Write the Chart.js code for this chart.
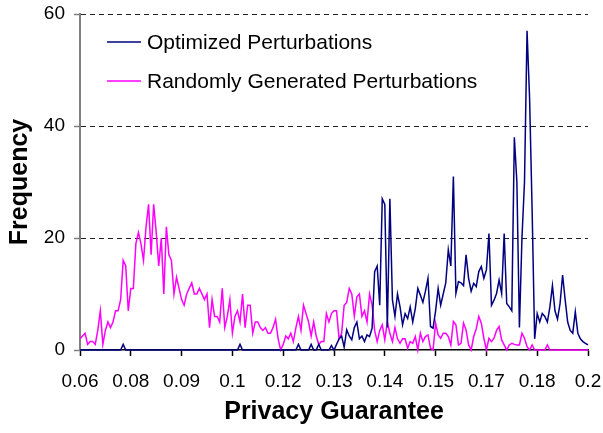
<!DOCTYPE html>
<html>
<head>
<meta charset="utf-8">
<script src="https://cdn.jsdelivr.net/npm/chart.js@4.4.1/dist/chart.umd.min.js"></script>
<style>
  html, body { margin: 0; padding: 0; background: #fff; }
  #wrap { width: 603px; height: 433px; }
</style>
</head>
<body>
<div id="wrap"><canvas id="chart"></canvas></div>
<script>
// ========================== Data ==========================
// bins of privacy guarantee, 0.06 .. 0.2
const binStart = 0.06;
const binStep = 0.0007;
const binCount = 201;
const categories = [];
for (let i = 0; i < binCount; i++) categories.push((binStart + i * binStep).toFixed(4));

const tickLabels = ['0.06', '0.08', '0.09', '0.1', '0.12', '0.13', '0.14', '0.15', '0.17', '0.18', '0.2'];
const tickEvery = 20;
const yTicks = [0, 20, 40, 60];

const optimized = [
  0, 0, 0, 0, 0, 0, 0, 0, 0, 0, 0, 0, 0, 0, 0, 0, 0, 1, 0, 0,
  0, 0, 0, 0, 0, 0, 0, 0, 0, 0, 0, 0, 0, 0, 0, 0, 0, 0, 0, 0,
  0, 0, 0, 0, 0, 0, 0, 0, 0, 0, 0, 0, 0, 0, 0, 0, 0, 0, 0, 0,
  0, 0, 0, 1, 0, 0, 0, 0, 0, 0, 0, 0, 0, 0, 0, 0, 0, 0, 0, 0,
  0, 0, 0, 0, 0, 0, 1, 0, 0, 0, 0, 1, 0, 0, 1, 0, 0, 0, 0, 0.8,
  0, 1, 2, 2.5, 0.5, 3.6, 2.5, 1.8, 4, 5, 2, 2.5, 1.5, 2.7, 2.4, 3.9, 14, 15, 8, 27,
  26, 4, 27, 9, 6, 10, 7.7, 4.5, 6.5, 5.6, 7.7, 5, 7.4, 11, 9.8, 8.5, 10.5, 12.8, 4.2, 3.9,
  7, 11, 8, 10, 12, 17.9, 15, 31, 10.1, 12.2, 12, 11.5, 17, 12.8, 10.5, 11.9, 11.3, 14, 14.9, 12.8,
  14.3, 20.8, 8, 8.9, 10.1, 12.5, 10.1, 20.8, 8.3, 7.7, 7, 38, 30, 4, 20, 30, 57, 45, 25, 2,
  6.5, 5, 6.5, 6, 5, 7.7, 11.5, 7, 5.5, 8.3, 13.4, 9, 5, 3.5, 3, 6.8, 3, 2, 1.5, 1.2,
  0.9
];

const randomGen = [
  2, 2.5, 3, 1, 1.5, 1.5, 1, 3.5, 7, 1, 3.5, 5, 4, 5, 7, 7, 9, 16, 15, 7,
  11, 11, 19, 21, 19, 16, 22, 26, 17, 26, 21, 15, 20, 10, 22, 17, 16, 10, 13, 11,
  9, 8, 10, 11, 12, 10, 10, 11, 10, 9, 10, 4, 9, 6, 6, 5, 11, 4, 6, 9,
  3, 6, 7, 5, 10, 4, 8, 8, 3, 5, 5, 4, 3.5, 4, 3, 3, 4, 5.5, 2, 0,
  1, 2.5, 2, 3, 1.5, 4, 6, 3.5, 8, 6.5, 5, 2.5, 5, 2.5, 1, 1.5, 1.5, 6.5, 5, 6.5,
  7, 7, 2, 3, 8, 8.5, 11, 10, 6, 9.5, 10, 6, 7, 5, 10, 8, 3.5, 1.5, 3.5, 4.5,
  1.8, 5, 3, 1.5, 4, 2, 1.2, 2, 2, 0.3, 1.5, 1.2, 2.4, 0, 3, 1.5, 2.4, 2.7, 0.3, 0,
  4.8, 2.7, 2.1, 3, 3, 2.4, 0.9, 5.1, 4.5, 0.9, 1.2, 4.8, 3.6, 0.9, 0, 2.4, 3.8, 6, 4.8, 2.1,
  0, 2.1, 1.5, 2.1, 3.5, 4.2, 1.8, 0.9, 0, 0.9, 1.2, 1, 0.9, 0.9, 3, 2.1, 0.6, 0, 0.9, 0,
  0, 0, 0, 0, 0.9, 0, 0, 0, 0, 0, 0, 0, 0, 0, 0, 0, 0, 0, 0, 0,
  0
];

const seriesNames = ['Optimized Perturbations', 'Randomly Generated Perturbations'];
const seriesColors = ['#000080', '#FF00FF'];

const FONT = "'Liberation Sans', Arial, sans-serif";

// ========================== Legend (inside plot) ==========================
const innerLegend = {
  id: 'innerLegend',
  afterDraw(chart) {
    const ctx = chart.ctx;
    const rows = [42, 81];
    ctx.save();
    ctx.font = '21px ' + FONT;
    ctx.textBaseline = 'middle';
    ctx.textAlign = 'left';
    seriesNames.forEach((name, i) => {
      ctx.strokeStyle = seriesColors[i];
      ctx.lineWidth = 1.5;
      ctx.beginPath();
      ctx.moveTo(107, rows[i]);
      ctx.lineTo(141, rows[i]);
      ctx.stroke();
      ctx.fillStyle = '#000';
      ctx.fillText(name, 147, rows[i] + 1);
    });
    ctx.restore();
  }
};

// ========================== Chart ==========================
new Chart(document.getElementById('chart'), {
  type: 'line',
  data: {
    labels: categories,
    datasets: [
      {
        label: seriesNames[0],
        data: optimized,
        borderColor: seriesColors[0],
        borderWidth: 1.5,
        pointRadius: 0,
        tension: 0,
        clip: false
      },
      {
        label: seriesNames[1],
        data: randomGen,
        borderColor: seriesColors[1],
        borderWidth: 1.5,
        pointRadius: 0,
        tension: 0,
        clip: false
      }
    ]
  },
  options: {
    responsive: true,
    maintainAspectRatio: false,
    animation: false,
    layout: { padding: { top: 14, right: 15, bottom: 0, left: 0 } },
    plugins: {
      legend: { display: false },
      tooltip: { enabled: false }
    },
    scales: {
      x: {
        type: 'category',
        offset: false,
        grid: {
          drawOnChartArea: false,
          drawTicks: true,
          tickLength: 6,
          tickColor: (c) => (c.index % tickEvery === 0 ? '#000' : 'transparent'),
          tickWidth: 1.5
        },
        border: { color: '#000', width: 1.5 },
        ticks: {
          autoSkip: false,
          maxRotation: 0,
          minRotation: 0,
          padding: 14,
          color: '#000',
          font: { family: FONT, size: 19 },
          callback: (v, i) => (i % tickEvery === 0 ? tickLabels[i / tickEvery] : '')
        },
        title: {
          display: true,
          text: 'Privacy Guarantee',
          color: '#000',
          font: { family: FONT, size: 25, weight: 'bold' },
          padding: { top: 0, bottom: 6 }
        },
        afterFit: (s) => {
          s.height = 83;
          s.paddingLeft = 0;
          s.paddingRight = 0;
        }
      },
      y: {
        min: 0,
        max: 60,
        afterBuildTicks: (s) => { s.ticks = yTicks.map(v => ({ value: v })); },
        grid: {
          color: (c) => (c.tick && c.tick.value === 0 ? 'transparent' : '#222'),
          lineWidth: 1,
          drawTicks: true,
          tickLength: 6,
          tickColor: '#808080',
          tickWidth: 1.5
        },
        border: { color: '#808080', width: 2, dash: [5, 4] },
        ticks: {
          padding: 9,
          color: '#000',
          font: { family: FONT, size: 19 }
        },
        title: {
          display: true,
          text: 'Frequency',
          color: '#000',
          font: { family: FONT, size: 25, weight: 'bold' },
          padding: { top: 5, bottom: 0 }
        },
        afterFit: (s) => {
          s.width = 80;
          s.paddingTop = 0;
          s.paddingBottom = 0;
        }
      }
    }
  },
  plugins: [innerLegend]
});
</script>
</body>
</html>
